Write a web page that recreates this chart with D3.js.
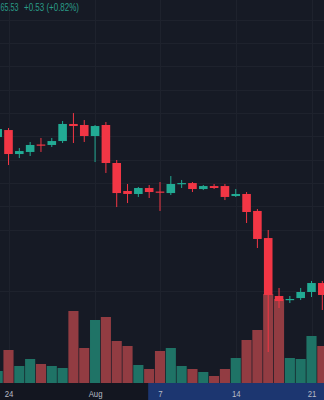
<!DOCTYPE html>
<html><head><meta charset="utf-8">
<script src="https://cdn.jsdelivr.net/npm/d3@7"></script>
<style>html,body{margin:0;padding:0;background:#161a25;overflow:hidden}</style>
</head><body><svg id="c" width="324" height="400"></svg>
<script>
// ---- data ----
const dates = ["2023-07-23","2023-07-24","2023-07-25","2023-07-26","2023-07-27","2023-07-28","2023-07-29","2023-07-30","2023-07-31",
  "2023-08-01","2023-08-02","2023-08-03","2023-08-04","2023-08-05","2023-08-06","2023-08-07","2023-08-08","2023-08-09","2023-08-10",
  "2023-08-11","2023-08-12","2023-08-13","2023-08-14","2023-08-15","2023-08-16","2023-08-17","2023-08-18","2023-08-19","2023-08-20",
  "2023-08-21","2023-08-22"];
const openP  = [82.44,83.19,80.62,80.84,81.64,81.59,82.01,83.84,83.73,82.55,83.73,79.66,76.66,76.34,76.98,76.60,76.44,77.41,77.51,76.87,77.19,77.19,76.12,76.34,74.52,71.62,65.41,64.98,65.19,65.84,66.80];
const highP  = [83.51,83.41,81.26,81.91,82.34,82.34,84.16,85.01,84.26,83.73,84.05,79.98,77.41,77.09,77.30,77.62,78.26,77.84,77.62,77.30,77.41,77.41,76.87,76.55,74.73,72.48,66.27,65.41,66.27,67.02,67.02];
const lowP   = [82.23,79.44,80.19,80.41,80.84,81.37,81.80,81.80,81.91,79.76,78.59,74.94,75.37,76.02,75.91,74.52,76.23,76.98,76.55,76.76,76.87,75.69,76.02,73.23,70.55,59.41,64.12,64.66,64.98,65.30,63.91];
const closeP = [83.30,80.62,80.94,81.59,81.53,82.01,83.84,83.62,82.55,83.62,79.66,76.44,76.34,76.98,76.55,76.50,77.41,77.51,76.87,77.19,76.98,76.02,76.34,74.41,71.52,65.52,64.87,65.09,65.84,66.80,65.52];
const volumes = [120,330,170,240,190,170,150,720,350,630,660,420,370,180,140,320,350,170,140,110,70,140,250,430,530,890,840,250,240,470,370];
const tickDates = ["2023-07-24","2023-08-01","2023-08-07","2023-08-14","2023-08-21"];
const tickLabels = ["24","Aug","7","14","21"];
const gridPrices = [95,92.5,90,87.5,85,82.5,80,77.5,75,72.5,66];
const highlightStart = "2023-08-06";
const legendClose = "65.53";
const legendChange = "+0.53 (+0.82%)";

// ---- styles ----
const W = 324, H = 400, axisTop = 383;
const UP = "#22ab94", DOWN = "#f23645";
const UPV = "#1f7366", DOWNV = "#923c42";

const parse = d3.utcParse("%Y-%m-%d");
const rows = dates.map((d,i)=>({date:parse(d), o:openP[i], h:highP[i], l:lowP[i], c:closeP[i], v:volumes[i]}));

const x = d3.scaleUtc().domain([parse("2023-07-24"), parse("2023-08-21")]).range([8.5, 311.5]);
const step = x(parse("2023-07-25")) - x(parse("2023-07-24"));
const y = d3.scaleLinear().domain([95, 66]).range([19.8, 290.5]);
const vy = d3.scaleLinear().domain([0, 890]).range([axisTop, 294]);

const svg = d3.select("#c");
svg.append("rect").attr("width", W).attr("height", H).attr("fill", "#161a25");

// grid
const grid = svg.append("g").attr("stroke", "#1e222d").attr("stroke-width", 1);
grid.selectAll("line.v").data(tickDates.map(parse)).join("line")
  .attr("x1", d=>Math.round(x(d))+0.5).attr("x2", d=>Math.round(x(d))+0.5)
  .attr("y1", 0).attr("y2", axisTop);
grid.selectAll("line.h").data(gridPrices).join("line")
  .attr("x1", 0).attr("x2", W)
  .attr("y1", d=>Math.round(y(d))+0.5).attr("y2", d=>Math.round(y(d))+0.5);

// volume
const bw = step - 0.7;
svg.append("g").selectAll("rect").data(rows).join("rect")
  .attr("x", d=>x(d.date)-bw/2).attr("width", bw)
  .attr("y", d=>vy(d.v)).attr("height", d=>axisTop - vy(d.v))
  .attr("fill", d=>d.c>=d.o?UPV:DOWNV);

// candles
const cw = 8.6;
const cg = svg.append("g").selectAll("g").data(rows).join("g");
cg.append("line")
  .attr("x1", d=>x(d.date)).attr("x2", d=>x(d.date))
  .attr("y1", d=>y(d.h)).attr("y2", d=>y(d.l))
  .attr("stroke", d=>d.c>=d.o?UP:DOWN).attr("stroke-width", 1);
cg.append("rect")
  .attr("x", d=>x(d.date)-cw/2).attr("width", cw)
  .attr("y", d=>y(Math.max(d.o,d.c)))
  .attr("height", d=>Math.max(1.2, Math.abs(y(d.o)-y(d.c))))
  .attr("fill", d=>d.c>=d.o?UP:DOWN);

// time axis band
svg.append("rect").attr("x",0).attr("y",axisTop).attr("width",W).attr("height",H-axisTop).attr("fill","#131620");
const hx = x(parse(highlightStart)) - 1;
svg.append("rect").attr("x",hx).attr("y",axisTop).attr("width",W-hx).attr("height",H-axisTop).attr("fill","#1c3670");

const axis = d3.axisBottom(x).tickValues(tickDates.map(parse))
  .tickFormat((d,i)=>tickLabels[i]).tickSize(0).tickPadding(6.8);
const ag = svg.append("g").attr("transform", `translate(0,${axisTop})`).call(axis);
ag.select(".domain").remove();
ag.selectAll("text").attr("fill","#b8bcc6").attr("font-size","9.5px")
  .attr("font-family","'Liberation Sans', Arial, sans-serif")
  .attr("transform","scale(0.82,1)");

// legend
const lg = svg.append("g").attr("font-family","'Liberation Sans', Arial, sans-serif").attr("font-size","10px").attr("fill","#2a9a88");
lg.append("text").attr("x",0.5).attr("y",11).attr("textLength",18).attr("lengthAdjust","spacingAndGlyphs").text(legendClose);
lg.append("text").attr("x",24).attr("y",11).attr("textLength",55).attr("lengthAdjust","spacingAndGlyphs").text(legendChange);
</script></body></html>
